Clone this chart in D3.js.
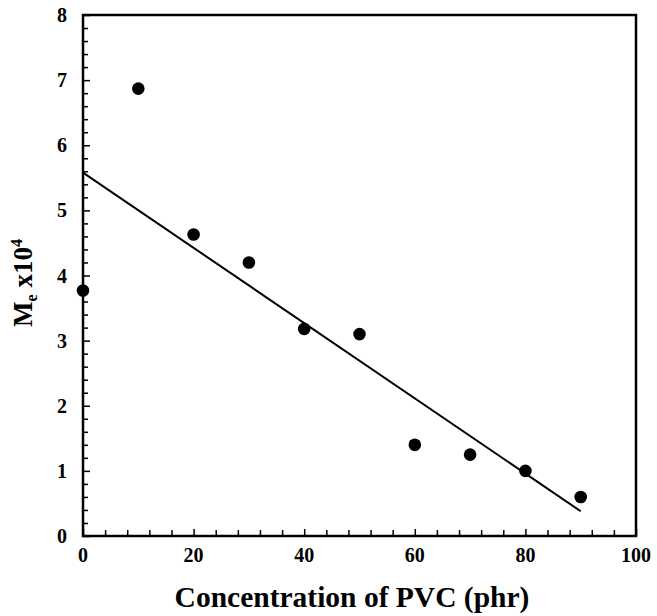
<!DOCTYPE html>
<html><head><meta charset="utf-8">
<script src="https://cdn.jsdelivr.net/npm/d3@7"></script>
<style>body{margin:0;background:#fff}</style>
</head><body><svg id="c" width="657" height="616"></svg>
<script>
const conc = [0, 10, 20, 30, 40, 50, 60, 70, 80, 90];
const me = [3.77, 6.87, 4.63, 4.2, 3.18, 3.1, 1.4, 1.25, 1.0, 0.6];
const fitX = [0, 90];
const fitY = [5.58, 0.38];
const xTicks = [0, 20, 40, 60, 80, 100];
const yTicks = [0, 1, 2, 3, 4, 5, 6, 7, 8];

const svg = d3.select("#c");
const L = 83, R = 636, T = 15, B = 536;
const x = d3.scaleLinear().domain([0, 100]).range([L, R]);
const y = d3.scaleLinear().domain([0, 8]).range([B, T]);
const font = "'Liberation Serif', 'Times New Roman', serif";

const xMinor = d3.range(0, 101, 4).filter(v => v % 20 !== 0);
const yMinor = d3.range(0, 8.01, 0.2).map(v => +v.toFixed(1)).filter(v => Math.abs(v - Math.round(v)) > 1e-6);

const gx = svg.append("g").attr("transform", `translate(0,${B})`)
  .call(d3.axisTop(x).tickValues(xTicks).tickSize(7).tickFormat(""));
const gxm = svg.append("g").attr("transform", `translate(0,${B})`)
  .call(d3.axisTop(x).tickValues(xMinor).tickSize(6).tickFormat(""));
const gy = svg.append("g").attr("transform", `translate(${L},0)`)
  .call(d3.axisRight(y).tickValues(yTicks).tickSize(7).tickFormat(""));
const gym = svg.append("g").attr("transform", `translate(${L},0)`)
  .call(d3.axisRight(y).tickValues(yMinor).tickSize(5).tickFormat(""));
[gx, gxm, gy, gym].forEach(g => {
  g.select(".domain").remove();
  g.selectAll("line").attr("stroke", "#000").attr("stroke-width", 1.5);
});

svg.append("rect").attr("x", L).attr("y", T).attr("width", R - L).attr("height", B - T)
  .attr("fill", "none").attr("stroke", "#000").attr("stroke-width", 2.5);

svg.append("g").selectAll("text").data(xTicks).join("text")
  .attr("x", d => x(d)).attr("y", B + 26).attr("text-anchor", "middle")
  .attr("font-family", font).attr("font-weight", "bold").attr("font-size", 20)
  .text(d => d);
svg.append("g").selectAll("text").data(yTicks).join("text")
  .attr("x", L - 16).attr("y", d => y(d) + 7).attr("text-anchor", "end")
  .attr("font-family", font).attr("font-weight", "bold").attr("font-size", 20)
  .text(d => d);

svg.append("line")
  .attr("x1", x(fitX[0])).attr("y1", y(fitY[0]))
  .attr("x2", x(fitX[1])).attr("y2", y(fitY[1]))
  .attr("stroke", "#000").attr("stroke-width", 2);

svg.append("g").selectAll("circle").data(conc).join("circle")
  .attr("cx", d => x(d)).attr("cy", (d, i) => y(me[i])).attr("r", 6.3).attr("fill", "#000");

svg.append("text").attr("x", 352).attr("y", 607).attr("text-anchor", "middle")
  .attr("font-family", font).attr("font-weight", "bold").attr("font-size", 29.5)
  .text("Concentration of PVC (phr)");

const yl = svg.append("text").attr("transform", `translate(32,283) rotate(-90)`)
  .attr("text-anchor", "middle").attr("font-family", font).attr("font-weight", "bold").attr("font-size", 27);
yl.append("tspan").text("M");
yl.append("tspan").attr("font-size", 16).attr("dy", 5).text("e");
yl.append("tspan").attr("dy", -5).text(" x10");
yl.append("tspan").attr("font-size", 16).attr("dy", -10).text("4");
</script></body></html>
